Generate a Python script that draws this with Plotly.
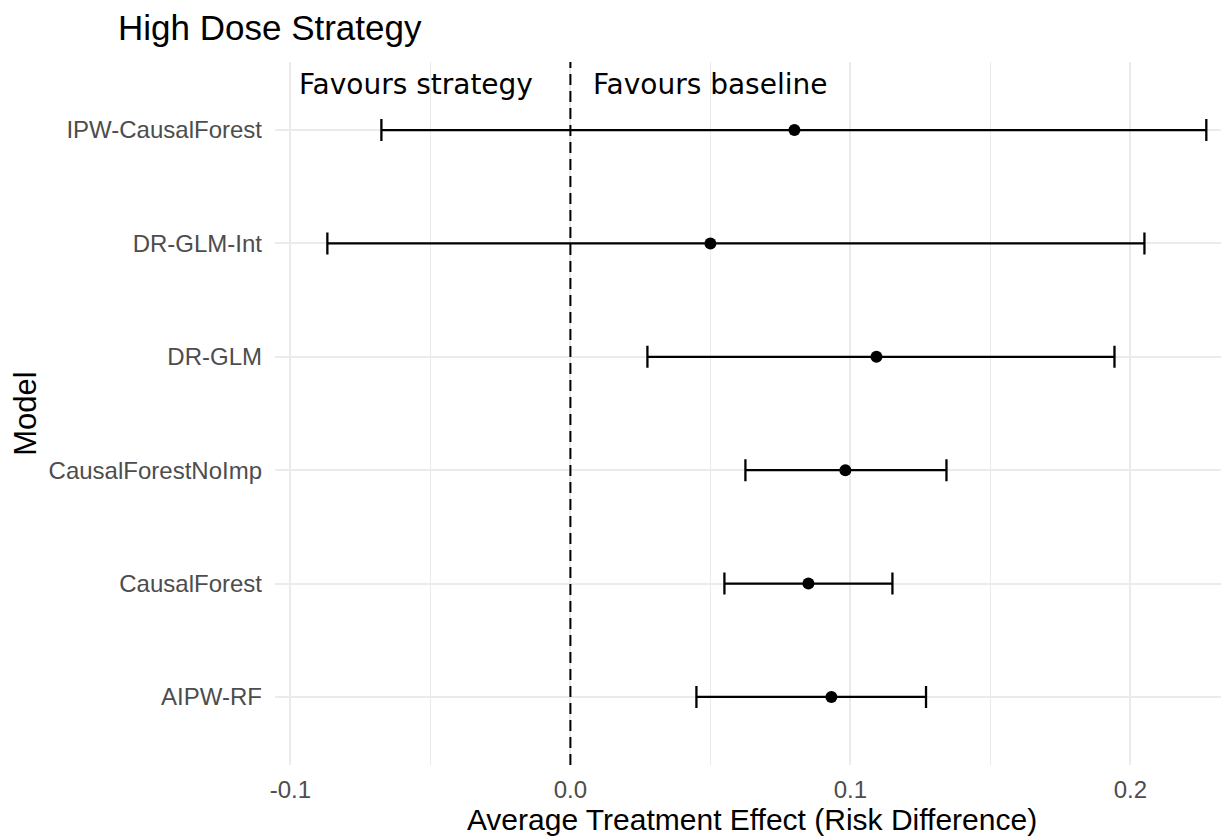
import plotly.graph_objects as go

# models listed bottom to top
models = ['AIPW-RF', 'CausalForest', 'CausalForestNoImp', 'DR-GLM', 'DR-GLM-Int', 'IPW-CausalForest']
ate = [0.0932, 0.0850, 0.0982, 0.1093, 0.0500, 0.0800]
lower = [0.0450, 0.0550, 0.0625, 0.0275, -0.0868, -0.0675]
upper = [0.1270, 0.1150, 0.1343, 0.1943, 0.2050, 0.2271]

err_plus = [u - a for u, a in zip(upper, ate)]
err_minus = [a - l for a, l in zip(ate, lower)]

fig = go.Figure()
fig.add_trace(go.Scatter(
    x=ate, y=models, mode='markers',
    marker=dict(color='black', size=12),
    error_x=dict(type='data', symmetric=False, array=err_plus, arrayminus=err_minus,
                 color='black', thickness=2.3, width=11),
    showlegend=False))

fig.add_vline(x=0, line=dict(color='black', width=2, dash='11px,6px'))

fig.add_annotation(x=-0.0125, y=5.4, text='Favours strategy', showarrow=False,
                   xanchor='right', font=dict(family='DejaVu Sans', size=28, color='black'))
fig.add_annotation(x=0.0072, y=5.4, text='Favours baseline', showarrow=False,
                   xanchor='left', font=dict(family='DejaVu Sans', size=28, color='black'))

# page body has an 8px margin, so the figure is a little smaller than the window
fig.update_layout(
    width=1221, height=830,
    plot_bgcolor='white', paper_bgcolor='white',
    margin=dict(l=267, r=0, t=54, b=73),
    title=dict(text='High Dose Strategy', x=110 / 1221, xanchor='left', y=0.976, yanchor='middle',
               font=dict(family='Liberation Sans', size=35, color='black')),
    xaxis=dict(range=[-0.1055, 0.2352], tickvals=[-0.1, 0.0, 0.1, 0.2],
               ticktext=['-0.1', '0.0', '0.1', '0.2'], automargin=False,
               showgrid=True, gridcolor='#ebebeb', gridwidth=2, zeroline=False,
               minor=dict(tickvals=[-0.05, 0.05, 0.15], showgrid=True, gridcolor='#ebebeb', gridwidth=1),
               ticklabelstandoff=8,
               tickfont=dict(family='Liberation Sans', size=24, color='#4d4d4d'),
               title=dict(text='Average Treatment Effect (Risk Difference)', standoff=6,
                          font=dict(family='Liberation Sans', size=30, color='black'))),
    yaxis=dict(type='category', categoryorder='array', categoryarray=models,
               range=[-0.6, 5.6], showgrid=True, gridcolor='#ebebeb', gridwidth=2,
               zeroline=False, ticklabelstandoff=12, automargin=False,
               tickfont=dict(family='Liberation Sans', size=24, color='#4d4d4d'),
               title=dict(text='Model', standoff=10,
                          font=dict(family='Liberation Sans', size=31, color='black'))),
)

fig.write_html('out.html')
